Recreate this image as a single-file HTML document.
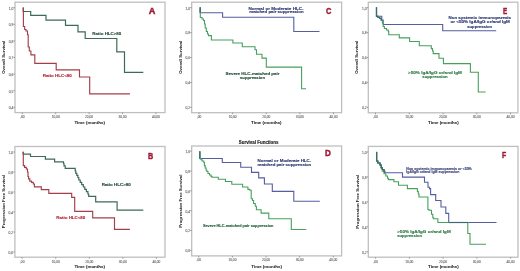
<!DOCTYPE html>
<html><head><meta charset="utf-8"><style>
html,body{margin:0;padding:0;background:#fff;}
body{width:520px;height:271px;overflow:hidden;}
svg{display:block;font-family:"Liberation Sans", sans-serif;will-change:transform;}
</style></head><body>
<svg width="520" height="271" viewBox="0 0 520 271">
<rect x="0" y="0" width="520" height="271" fill="#ffffff"/>
<rect x="15" y="2.2" width="150" height="110.4" fill="none" stroke="#bfbfbf" stroke-width="1.3"/>
<line x1="13.5" y1="7.7" x2="15" y2="7.7" stroke="#8c8c8c" stroke-width="0.9"/>
<text x="13.3" y="9.5" font-size="3.3" fill="#606060" font-weight="normal" text-anchor="end" stroke="#606060" stroke-width="0.08">1,0</text>
<line x1="13.5" y1="24.3" x2="15" y2="24.3" stroke="#8c8c8c" stroke-width="0.9"/>
<text x="13.3" y="26.1" font-size="3.3" fill="#606060" font-weight="normal" text-anchor="end" stroke="#606060" stroke-width="0.08">0,9</text>
<line x1="13.5" y1="40.9" x2="15" y2="40.9" stroke="#8c8c8c" stroke-width="0.9"/>
<text x="13.3" y="42.7" font-size="3.3" fill="#606060" font-weight="normal" text-anchor="end" stroke="#606060" stroke-width="0.08">0,8</text>
<line x1="13.5" y1="57.5" x2="15" y2="57.5" stroke="#8c8c8c" stroke-width="0.9"/>
<text x="13.3" y="59.3" font-size="3.3" fill="#606060" font-weight="normal" text-anchor="end" stroke="#606060" stroke-width="0.08">0,7</text>
<line x1="13.5" y1="74.1" x2="15" y2="74.1" stroke="#8c8c8c" stroke-width="0.9"/>
<text x="13.3" y="75.9" font-size="3.3" fill="#606060" font-weight="normal" text-anchor="end" stroke="#606060" stroke-width="0.08">0,6</text>
<line x1="13.5" y1="90.7" x2="15" y2="90.7" stroke="#8c8c8c" stroke-width="0.9"/>
<text x="13.3" y="92.5" font-size="3.3" fill="#606060" font-weight="normal" text-anchor="end" stroke="#606060" stroke-width="0.08">0,5</text>
<line x1="13.5" y1="107.3" x2="15" y2="107.3" stroke="#8c8c8c" stroke-width="0.9"/>
<text x="13.3" y="109.1" font-size="3.3" fill="#606060" font-weight="normal" text-anchor="end" stroke="#606060" stroke-width="0.08">0,4</text>
<line x1="22.3" y1="112.6" x2="22.3" y2="114.1" stroke="#8c8c8c" stroke-width="0.9"/>
<text x="22.3" y="118.0" font-size="3.2" fill="#606060" font-weight="normal" text-anchor="middle" stroke="#606060" stroke-width="0.08">,00</text>
<line x1="55.7" y1="112.6" x2="55.7" y2="114.1" stroke="#8c8c8c" stroke-width="0.9"/>
<text x="55.7" y="118.0" font-size="3.2" fill="#606060" font-weight="normal" text-anchor="middle" stroke="#606060" stroke-width="0.08">10,00</text>
<line x1="89.1" y1="112.6" x2="89.1" y2="114.1" stroke="#8c8c8c" stroke-width="0.9"/>
<text x="89.1" y="118.0" font-size="3.2" fill="#606060" font-weight="normal" text-anchor="middle" stroke="#606060" stroke-width="0.08">20,00</text>
<line x1="122.5" y1="112.6" x2="122.5" y2="114.1" stroke="#8c8c8c" stroke-width="0.9"/>
<text x="122.5" y="118.0" font-size="3.2" fill="#606060" font-weight="normal" text-anchor="middle" stroke="#606060" stroke-width="0.08">30,00</text>
<line x1="155.9" y1="112.6" x2="155.9" y2="114.1" stroke="#8c8c8c" stroke-width="0.9"/>
<text x="155.9" y="118.0" font-size="3.2" fill="#606060" font-weight="normal" text-anchor="middle" stroke="#606060" stroke-width="0.08">40,00</text>
<text x="89.7" y="124.2" font-size="4.1" fill="#222" font-weight="bold" text-anchor="middle" textLength="30.6" lengthAdjust="spacingAndGlyphs" stroke="#222" stroke-width="0.05">Time (months)</text>
<text x="0" y="0" font-size="4.4" fill="#222" font-weight="bold" text-anchor="middle" textLength="33" lengthAdjust="spacingAndGlyphs" transform="translate(4.7,57.3) rotate(-90)">Overall Survival</text>
<path d="M23.2,7.5 V11.5 H30.7 V15.3 H46 V20.2 H65.5 V25.4 H78 V31.9 H85.2 V38.5 H116.8 V51.8 H124.5 V72.3 H143.3" fill="none" stroke="#3d6b57" stroke-width="1.2" stroke-linejoin="miter"/>
<path d="M23.4,7.5 V26.5 H24.7 V29.5 H26 V31 H27.5 V34.7 H28.2 V47 H29.3 V51 H30.9 V54.9 H34.8 V63.4 H56.2 V69.9 H79.5 V77 H89.7 V93.9 H129.9" fill="none" stroke="#a53e4a" stroke-width="1.15" stroke-linejoin="miter"/>
<text x="106.8" y="35" font-size="4.4" fill="#214a36" font-weight="bold" text-anchor="middle" textLength="29" lengthAdjust="spacingAndGlyphs" stroke="#214a36" stroke-width="0.13">Ratio HLC&gt;80</text>
<text x="57.2" y="77.3" font-size="4.4" fill="#b02a38" font-weight="bold" text-anchor="middle" textLength="29" lengthAdjust="spacingAndGlyphs" stroke="#b02a38" stroke-width="0.13">Ratio HLC&lt;80</text>
<text x="152" y="14.1" font-size="9" fill="#a01a38" stroke="#a01a38" stroke-width="0.45" font-weight="bold" text-anchor="middle" textLength="6.6" lengthAdjust="spacingAndGlyphs">A</text>
<rect x="191.7" y="2.2" width="149.9" height="110.5" fill="none" stroke="#bfbfbf" stroke-width="1.3"/>
<line x1="190.2" y1="7.7" x2="191.7" y2="7.7" stroke="#8c8c8c" stroke-width="0.9"/>
<text x="190.0" y="9.5" font-size="3.3" fill="#606060" font-weight="normal" text-anchor="end" stroke="#606060" stroke-width="0.08">1,0</text>
<line x1="190.2" y1="32.63" x2="191.7" y2="32.63" stroke="#8c8c8c" stroke-width="0.9"/>
<text x="190.0" y="34.43" font-size="3.3" fill="#606060" font-weight="normal" text-anchor="end" stroke="#606060" stroke-width="0.08">0,8</text>
<line x1="190.2" y1="57.56" x2="191.7" y2="57.56" stroke="#8c8c8c" stroke-width="0.9"/>
<text x="190.0" y="59.36" font-size="3.3" fill="#606060" font-weight="normal" text-anchor="end" stroke="#606060" stroke-width="0.08">0,6</text>
<line x1="190.2" y1="82.49" x2="191.7" y2="82.49" stroke="#8c8c8c" stroke-width="0.9"/>
<text x="190.0" y="84.29" font-size="3.3" fill="#606060" font-weight="normal" text-anchor="end" stroke="#606060" stroke-width="0.08">0,4</text>
<line x1="190.2" y1="107.42" x2="191.7" y2="107.42" stroke="#8c8c8c" stroke-width="0.9"/>
<text x="190.0" y="109.22" font-size="3.3" fill="#606060" font-weight="normal" text-anchor="end" stroke="#606060" stroke-width="0.08">0,2</text>
<line x1="199.0" y1="112.7" x2="199.0" y2="114.2" stroke="#8c8c8c" stroke-width="0.9"/>
<text x="199.0" y="118.1" font-size="3.2" fill="#606060" font-weight="normal" text-anchor="middle" stroke="#606060" stroke-width="0.08">,00</text>
<line x1="232.62" y1="112.7" x2="232.62" y2="114.2" stroke="#8c8c8c" stroke-width="0.9"/>
<text x="232.62" y="118.1" font-size="3.2" fill="#606060" font-weight="normal" text-anchor="middle" stroke="#606060" stroke-width="0.08">10,00</text>
<line x1="266.24" y1="112.7" x2="266.24" y2="114.2" stroke="#8c8c8c" stroke-width="0.9"/>
<text x="266.24" y="118.1" font-size="3.2" fill="#606060" font-weight="normal" text-anchor="middle" stroke="#606060" stroke-width="0.08">20,00</text>
<line x1="299.86" y1="112.7" x2="299.86" y2="114.2" stroke="#8c8c8c" stroke-width="0.9"/>
<text x="299.86" y="118.1" font-size="3.2" fill="#606060" font-weight="normal" text-anchor="middle" stroke="#606060" stroke-width="0.08">30,00</text>
<line x1="333.48" y1="112.7" x2="333.48" y2="114.2" stroke="#8c8c8c" stroke-width="0.9"/>
<text x="333.48" y="118.1" font-size="3.2" fill="#606060" font-weight="normal" text-anchor="middle" stroke="#606060" stroke-width="0.08">40,00</text>
<text x="266.3" y="124.2" font-size="4.1" fill="#222" font-weight="bold" text-anchor="middle" textLength="30.6" lengthAdjust="spacingAndGlyphs" stroke="#222" stroke-width="0.05">Time (months)</text>
<text x="0" y="0" font-size="4.4" fill="#222" font-weight="bold" text-anchor="middle" textLength="33" lengthAdjust="spacingAndGlyphs" transform="translate(181.6,57.3) rotate(-90)">Overall Survival</text>
<path d="M200.1,7.3 V12.7 H222.6 V17.3 H293.8 V31.5 H319.5" fill="none" stroke="#555e9e" stroke-width="1.1" stroke-linejoin="miter"/>
<path d="M200.3,7.5 V17.5 H202 V19 H203.5 V20.5 H204.5 V24 H205.2 V28 H206.3 V31.5 H207.5 V34 H208.5 V35.6 H211.4 V40 H232.9 V43 H242.3 V46.7 H255 V49.8 H256.5 V54.2 H262 V58.1 H266.3 V67.1 H301.6 V88.7 H306" fill="none" stroke="#47a05c" stroke-width="1.1" stroke-linejoin="miter"/>
<text x="276" y="9.8" font-size="4.4" fill="#2c356e" font-weight="bold" text-anchor="middle" textLength="55" lengthAdjust="spacingAndGlyphs" stroke="#2c356e" stroke-width="0.13">Normal or Moderate HLC-</text>
<text x="276.4" y="13.3" font-size="4.4" fill="#2c356e" font-weight="bold" text-anchor="middle" textLength="54.3" lengthAdjust="spacingAndGlyphs" stroke="#2c356e" stroke-width="0.13">matched pair suppression</text>
<text x="252.5" y="74.6" font-size="4.4" fill="#214a36" font-weight="bold" text-anchor="middle" textLength="54" lengthAdjust="spacingAndGlyphs" stroke="#214a36" stroke-width="0.13">Severe HLC-matched pair</text>
<text x="252.5" y="79" font-size="4.4" fill="#214a36" font-weight="bold" text-anchor="middle" textLength="25" lengthAdjust="spacingAndGlyphs" stroke="#214a36" stroke-width="0.13">suppression</text>
<text x="328.8" y="14.0" font-size="9" fill="#a01a38" stroke="#a01a38" stroke-width="0.45" font-weight="bold" text-anchor="middle" textLength="5.4" lengthAdjust="spacingAndGlyphs">C</text>
<path d="M200.2,7.3 V12.6" fill="none" stroke="#3d6a6a" stroke-width="1.2" stroke-linejoin="miter"/>
<rect x="368.3" y="2.2" width="149.6" height="110.6" fill="none" stroke="#bfbfbf" stroke-width="1.3"/>
<line x1="366.8" y1="7.7" x2="368.3" y2="7.7" stroke="#8c8c8c" stroke-width="0.9"/>
<text x="366.6" y="9.5" font-size="3.3" fill="#606060" font-weight="normal" text-anchor="end" stroke="#606060" stroke-width="0.08">1,0</text>
<line x1="366.8" y1="32.63" x2="368.3" y2="32.63" stroke="#8c8c8c" stroke-width="0.9"/>
<text x="366.6" y="34.43" font-size="3.3" fill="#606060" font-weight="normal" text-anchor="end" stroke="#606060" stroke-width="0.08">0,8</text>
<line x1="366.8" y1="57.56" x2="368.3" y2="57.56" stroke="#8c8c8c" stroke-width="0.9"/>
<text x="366.6" y="59.36" font-size="3.3" fill="#606060" font-weight="normal" text-anchor="end" stroke="#606060" stroke-width="0.08">0,6</text>
<line x1="366.8" y1="82.49" x2="368.3" y2="82.49" stroke="#8c8c8c" stroke-width="0.9"/>
<text x="366.6" y="84.29" font-size="3.3" fill="#606060" font-weight="normal" text-anchor="end" stroke="#606060" stroke-width="0.08">0,4</text>
<line x1="366.8" y1="107.42" x2="368.3" y2="107.42" stroke="#8c8c8c" stroke-width="0.9"/>
<text x="366.6" y="109.22" font-size="3.3" fill="#606060" font-weight="normal" text-anchor="end" stroke="#606060" stroke-width="0.08">0,2</text>
<line x1="375.5" y1="112.8" x2="375.5" y2="114.3" stroke="#8c8c8c" stroke-width="0.9"/>
<text x="375.5" y="118.2" font-size="3.2" fill="#606060" font-weight="normal" text-anchor="middle" stroke="#606060" stroke-width="0.08">,00</text>
<line x1="409.25" y1="112.8" x2="409.25" y2="114.3" stroke="#8c8c8c" stroke-width="0.9"/>
<text x="409.25" y="118.2" font-size="3.2" fill="#606060" font-weight="normal" text-anchor="middle" stroke="#606060" stroke-width="0.08">10,00</text>
<line x1="443.0" y1="112.8" x2="443.0" y2="114.3" stroke="#8c8c8c" stroke-width="0.9"/>
<text x="443.0" y="118.2" font-size="3.2" fill="#606060" font-weight="normal" text-anchor="middle" stroke="#606060" stroke-width="0.08">20,00</text>
<line x1="476.75" y1="112.8" x2="476.75" y2="114.3" stroke="#8c8c8c" stroke-width="0.9"/>
<text x="476.75" y="118.2" font-size="3.2" fill="#606060" font-weight="normal" text-anchor="middle" stroke="#606060" stroke-width="0.08">30,00</text>
<line x1="510.5" y1="112.8" x2="510.5" y2="114.3" stroke="#8c8c8c" stroke-width="0.9"/>
<text x="510.5" y="118.2" font-size="3.2" fill="#606060" font-weight="normal" text-anchor="middle" stroke="#606060" stroke-width="0.08">40,00</text>
<text x="443.4" y="124.2" font-size="4.1" fill="#222" font-weight="bold" text-anchor="middle" textLength="30.6" lengthAdjust="spacingAndGlyphs" stroke="#222" stroke-width="0.05">Time (months)</text>
<text x="0" y="0" font-size="4.4" fill="#222" font-weight="bold" text-anchor="middle" textLength="33" lengthAdjust="spacingAndGlyphs" transform="translate(358.2,57.3) rotate(-90)">Overall Survival</text>
<path d="M376.4,7.2 V16.2 H381.8 V20 H383.2 V24.5 H442.7 V30.8 H496.2" fill="none" stroke="#555e9e" stroke-width="1.1" stroke-linejoin="miter"/>
<path d="M376.6,7.5 V16.4 H378 V17.5 H379.8 V18.5 H381.2 V20.5 H382.4 V23 H383.2 V26.5 H384.4 V28.5 H386.5 V30 H388.3 V31.5 H388.7 V34.8 H399.3 V37.9 H409.6 V41.5 H419.3 V45.7 H431.3 V48.6 H432.5 V51 H433.2 V53.6 H439 V58.2 H443.4 V63.6 H470.4 V72.2 H478.3 V92 H485.7" fill="none" stroke="#47a05c" stroke-width="1.1" stroke-linejoin="miter"/>
<text x="479.8" y="19.45" font-size="4.4" fill="#2c356e" font-weight="bold" text-anchor="middle" textLength="62.5" lengthAdjust="spacingAndGlyphs" stroke="#2c356e" stroke-width="0.13">Non systemic immunoparesis</text>
<text x="480.2" y="23.45" font-size="4.4" fill="#2c356e" font-weight="bold" text-anchor="middle" textLength="59.5" lengthAdjust="spacingAndGlyphs" stroke="#2c356e" stroke-width="0.13">or &lt;50% IgA/IgG or/and IgM</text>
<text x="479.7" y="27.55" font-size="4.4" fill="#2c356e" font-weight="bold" text-anchor="middle" textLength="25" lengthAdjust="spacingAndGlyphs" stroke="#2c356e" stroke-width="0.13">suppression</text>
<text x="435.0" y="73.9" font-size="4.4" fill="#2b7843" font-weight="bold" text-anchor="middle" textLength="53.9" lengthAdjust="spacingAndGlyphs" stroke="#2b7843" stroke-width="0.13">&gt;50% IgA/IgG or/and IgM</text>
<text x="435.0" y="78.0" font-size="4.3" fill="#2b7843" font-weight="bold" text-anchor="middle" textLength="25.5" lengthAdjust="spacingAndGlyphs" stroke="#2b7843" stroke-width="0.13">suppression</text>
<text x="505.1" y="14.0" font-size="9" fill="#a01a38" stroke="#a01a38" stroke-width="0.45" font-weight="bold" text-anchor="middle" textLength="4.2" lengthAdjust="spacingAndGlyphs">E</text>
<path d="M376.5,7.2 V16.4 H378 V17.5 H379.8 V18.5 H381.2 V20.5" fill="none" stroke="#3d6a6a" stroke-width="1.2" stroke-linejoin="miter"/>
<text x="258.6" y="143.9" font-size="4.45" fill="#1a1a1a" font-weight="bold" text-anchor="middle" textLength="39.7" lengthAdjust="spacingAndGlyphs" stroke="#1a1a1a" stroke-width="0.13">Survival Functions</text>
<rect x="14.9" y="146.5" width="150.1" height="110.7" fill="none" stroke="#bfbfbf" stroke-width="1.3"/>
<line x1="13.4" y1="152.0" x2="14.9" y2="152.0" stroke="#8c8c8c" stroke-width="0.9"/>
<text x="13.2" y="153.8" font-size="3.3" fill="#606060" font-weight="normal" text-anchor="end" stroke="#606060" stroke-width="0.08">1,0</text>
<line x1="13.4" y1="172.0" x2="14.9" y2="172.0" stroke="#8c8c8c" stroke-width="0.9"/>
<text x="13.2" y="173.8" font-size="3.3" fill="#606060" font-weight="normal" text-anchor="end" stroke="#606060" stroke-width="0.08">0,8</text>
<line x1="13.4" y1="192.0" x2="14.9" y2="192.0" stroke="#8c8c8c" stroke-width="0.9"/>
<text x="13.2" y="193.8" font-size="3.3" fill="#606060" font-weight="normal" text-anchor="end" stroke="#606060" stroke-width="0.08">0,6</text>
<line x1="13.4" y1="212.0" x2="14.9" y2="212.0" stroke="#8c8c8c" stroke-width="0.9"/>
<text x="13.2" y="213.8" font-size="3.3" fill="#606060" font-weight="normal" text-anchor="end" stroke="#606060" stroke-width="0.08">0,4</text>
<line x1="13.4" y1="232.0" x2="14.9" y2="232.0" stroke="#8c8c8c" stroke-width="0.9"/>
<text x="13.2" y="233.8" font-size="3.3" fill="#606060" font-weight="normal" text-anchor="end" stroke="#606060" stroke-width="0.08">0,2</text>
<line x1="13.4" y1="252.0" x2="14.9" y2="252.0" stroke="#8c8c8c" stroke-width="0.9"/>
<text x="13.2" y="253.8" font-size="3.3" fill="#606060" font-weight="normal" text-anchor="end" stroke="#606060" stroke-width="0.08">0,0</text>
<line x1="22.2" y1="257.2" x2="22.2" y2="258.7" stroke="#8c8c8c" stroke-width="0.9"/>
<text x="22.2" y="262.6" font-size="3.2" fill="#606060" font-weight="normal" text-anchor="middle" stroke="#606060" stroke-width="0.08">,00</text>
<line x1="55.75" y1="257.2" x2="55.75" y2="258.7" stroke="#8c8c8c" stroke-width="0.9"/>
<text x="55.75" y="262.6" font-size="3.2" fill="#606060" font-weight="normal" text-anchor="middle" stroke="#606060" stroke-width="0.08">10,00</text>
<line x1="89.3" y1="257.2" x2="89.3" y2="258.7" stroke="#8c8c8c" stroke-width="0.9"/>
<text x="89.3" y="262.6" font-size="3.2" fill="#606060" font-weight="normal" text-anchor="middle" stroke="#606060" stroke-width="0.08">20,00</text>
<line x1="122.85" y1="257.2" x2="122.85" y2="258.7" stroke="#8c8c8c" stroke-width="0.9"/>
<text x="122.85" y="262.6" font-size="3.2" fill="#606060" font-weight="normal" text-anchor="middle" stroke="#606060" stroke-width="0.08">30,00</text>
<line x1="156.4" y1="257.2" x2="156.4" y2="258.7" stroke="#8c8c8c" stroke-width="0.9"/>
<text x="156.4" y="262.6" font-size="3.2" fill="#606060" font-weight="normal" text-anchor="middle" stroke="#606060" stroke-width="0.08">40,00</text>
<text x="89.7" y="268.3" font-size="4.1" fill="#222" font-weight="bold" text-anchor="middle" textLength="30.6" lengthAdjust="spacingAndGlyphs" stroke="#222" stroke-width="0.05">Time (months)</text>
<text x="0" y="0" font-size="4.3" fill="#222" font-weight="bold" text-anchor="middle" textLength="53.3" lengthAdjust="spacingAndGlyphs" transform="translate(5.3,201.6) rotate(-90)">Progression Free Survival</text>
<path d="M23.1,151.8 V154.1 H30.5 V156.5 H45.4 V159.2 H54.6 V161.9 H63.5 V163.5 H64 V165.8 H65.2 V168.3 H75.2 V171 H75.8 V173.3 H76.8 V175.3 H77.9 V177.5 H78.8 V180 H80.2 V182.3 H81.7 V184.7 H83.3 V187 H84.8 V189.3 H86.4 V191.6 H87.9 V194 H88.7 V196.3 H95.7 V201.8 H117.1 V210.2 H143.3" fill="none" stroke="#3d6b57" stroke-width="1.2" stroke-linejoin="miter"/>
<path d="M23.3,151.8 V165.6 H24.6 V167.3 H26.3 V169 H27.5 V172 H28 V176.5 H28.6 V178.8 H29.8 V181.1 H31.5 V182.3 H33.3 V184 H34.4 V186.9 H41.3 V189.6 H48.8 V193.3 H71.7 V197.4 H74.7 V211.3 H92.7 V217.8 H114.5 V229.4 H129.9" fill="none" stroke="#a53e4a" stroke-width="1.15" stroke-linejoin="miter"/>
<text x="116.2" y="185.6" font-size="4.4" fill="#214a36" font-weight="bold" text-anchor="middle" textLength="29" lengthAdjust="spacingAndGlyphs" stroke="#214a36" stroke-width="0.13">Ratio HLC&gt;80</text>
<text x="70.8" y="219.2" font-size="4.4" fill="#b02a38" font-weight="bold" text-anchor="middle" textLength="29" lengthAdjust="spacingAndGlyphs" stroke="#b02a38" stroke-width="0.13">Ratio HLC&lt;80</text>
<text x="150.7" y="158.5" font-size="9" fill="#a01a38" stroke="#a01a38" stroke-width="0.45" font-weight="bold" text-anchor="middle" textLength="5.2" lengthAdjust="spacingAndGlyphs">B</text>
<rect x="191.7" y="146" width="149.9" height="109.9" fill="none" stroke="#bfbfbf" stroke-width="1.3"/>
<line x1="190.2" y1="151.2" x2="191.7" y2="151.2" stroke="#8c8c8c" stroke-width="0.9"/>
<text x="190.0" y="153.0" font-size="3.3" fill="#606060" font-weight="normal" text-anchor="end" stroke="#606060" stroke-width="0.08">1,0</text>
<line x1="190.2" y1="171.04" x2="191.7" y2="171.04" stroke="#8c8c8c" stroke-width="0.9"/>
<text x="190.0" y="172.84" font-size="3.3" fill="#606060" font-weight="normal" text-anchor="end" stroke="#606060" stroke-width="0.08">0,8</text>
<line x1="190.2" y1="190.88" x2="191.7" y2="190.88" stroke="#8c8c8c" stroke-width="0.9"/>
<text x="190.0" y="192.68" font-size="3.3" fill="#606060" font-weight="normal" text-anchor="end" stroke="#606060" stroke-width="0.08">0,6</text>
<line x1="190.2" y1="210.72" x2="191.7" y2="210.72" stroke="#8c8c8c" stroke-width="0.9"/>
<text x="190.0" y="212.52" font-size="3.3" fill="#606060" font-weight="normal" text-anchor="end" stroke="#606060" stroke-width="0.08">0,4</text>
<line x1="190.2" y1="230.56" x2="191.7" y2="230.56" stroke="#8c8c8c" stroke-width="0.9"/>
<text x="190.0" y="232.36" font-size="3.3" fill="#606060" font-weight="normal" text-anchor="end" stroke="#606060" stroke-width="0.08">0,2</text>
<line x1="190.2" y1="250.4" x2="191.7" y2="250.4" stroke="#8c8c8c" stroke-width="0.9"/>
<text x="190.0" y="252.2" font-size="3.3" fill="#606060" font-weight="normal" text-anchor="end" stroke="#606060" stroke-width="0.08">0,0</text>
<line x1="198.8" y1="255.9" x2="198.8" y2="257.4" stroke="#8c8c8c" stroke-width="0.9"/>
<text x="198.8" y="261.3" font-size="3.2" fill="#606060" font-weight="normal" text-anchor="middle" stroke="#606060" stroke-width="0.08">,00</text>
<line x1="232.42" y1="255.9" x2="232.42" y2="257.4" stroke="#8c8c8c" stroke-width="0.9"/>
<text x="232.42" y="261.3" font-size="3.2" fill="#606060" font-weight="normal" text-anchor="middle" stroke="#606060" stroke-width="0.08">10,00</text>
<line x1="266.04" y1="255.9" x2="266.04" y2="257.4" stroke="#8c8c8c" stroke-width="0.9"/>
<text x="266.04" y="261.3" font-size="3.2" fill="#606060" font-weight="normal" text-anchor="middle" stroke="#606060" stroke-width="0.08">20,00</text>
<line x1="299.66" y1="255.9" x2="299.66" y2="257.4" stroke="#8c8c8c" stroke-width="0.9"/>
<text x="299.66" y="261.3" font-size="3.2" fill="#606060" font-weight="normal" text-anchor="middle" stroke="#606060" stroke-width="0.08">30,00</text>
<line x1="333.28" y1="255.9" x2="333.28" y2="257.4" stroke="#8c8c8c" stroke-width="0.9"/>
<text x="333.28" y="261.3" font-size="3.2" fill="#606060" font-weight="normal" text-anchor="middle" stroke="#606060" stroke-width="0.08">40,00</text>
<text x="266.6" y="267.6" font-size="4.1" fill="#222" font-weight="bold" text-anchor="middle" textLength="30.6" lengthAdjust="spacingAndGlyphs" stroke="#222" stroke-width="0.05">Time (months)</text>
<text x="0" y="0" font-size="4.3" fill="#222" font-weight="bold" text-anchor="middle" textLength="53.3" lengthAdjust="spacingAndGlyphs" transform="translate(182.0,201.2) rotate(-90)">Progression Free Survival</text>
<path d="M199.8,151.2 V158.5 H222.3 V162.5 H240.7 V167.3 H251.5 V172.4 H258.7 V177.9 H264.4 V184 H272.3 V191.4 H293.8 V201.3 H319.8" fill="none" stroke="#555e9e" stroke-width="1.1" stroke-linejoin="miter"/>
<path d="M199.9,151.5 V158.7 H201 V159.8 H202.1 V161 H203.8 V162.5 H204.4 V165.6 H205.2 V168 H206.1 V170.2 H206.9 V171.5 H208 V173.5 H209.5 V175 H211 V176.4 H212 V177.3 H218.3 V179.3 H225.4 V181.5 H231.8 V184.3 H242.6 V187 H247.9 V189.4 H249.8 V190.2 H251.2 V198.8 H252.5 V200.5 H253.6 V203.5 H255.3 V206.3 H256.4 V209.7 H261.1 V213.1 H268.8 V218.8 H291.3 V229.5 H306.3" fill="none" stroke="#47a05c" stroke-width="1.1" stroke-linejoin="miter"/>
<text x="284.4" y="162" font-size="4.4" fill="#2c356e" font-weight="bold" text-anchor="middle" textLength="53.7" lengthAdjust="spacingAndGlyphs" stroke="#2c356e" stroke-width="0.13">Normal or Moderate HLC-</text>
<text x="284.4" y="166.4" font-size="4.4" fill="#2c356e" font-weight="bold" text-anchor="middle" textLength="53.7" lengthAdjust="spacingAndGlyphs" stroke="#2c356e" stroke-width="0.13">matched pair suppression</text>
<text x="238.2" y="226.6" font-size="3.85" fill="#27613f" font-weight="bold" text-anchor="middle" textLength="70.5" lengthAdjust="spacingAndGlyphs" stroke="#27613f" stroke-width="0.13">Severe HLC-matched pair suppression</text>
<text x="328" y="156.4" font-size="9" fill="#a01a38" stroke="#a01a38" stroke-width="0.45" font-weight="bold" text-anchor="middle" textLength="5.8" lengthAdjust="spacingAndGlyphs">D</text>
<path d="M199.85,151.3 V158.6" fill="none" stroke="#3d6a6a" stroke-width="1.2" stroke-linejoin="miter"/>
<rect x="368.3" y="146.4" width="149.7" height="110.8" fill="none" stroke="#bfbfbf" stroke-width="1.3"/>
<line x1="366.8" y1="152.0" x2="368.3" y2="152.0" stroke="#8c8c8c" stroke-width="0.9"/>
<text x="366.6" y="153.8" font-size="3.3" fill="#606060" font-weight="normal" text-anchor="end" stroke="#606060" stroke-width="0.08">1,0</text>
<line x1="366.8" y1="176.95" x2="368.3" y2="176.95" stroke="#8c8c8c" stroke-width="0.9"/>
<text x="366.6" y="178.75" font-size="3.3" fill="#606060" font-weight="normal" text-anchor="end" stroke="#606060" stroke-width="0.08">0,8</text>
<line x1="366.8" y1="201.9" x2="368.3" y2="201.9" stroke="#8c8c8c" stroke-width="0.9"/>
<text x="366.6" y="203.7" font-size="3.3" fill="#606060" font-weight="normal" text-anchor="end" stroke="#606060" stroke-width="0.08">0,6</text>
<line x1="366.8" y1="226.85" x2="368.3" y2="226.85" stroke="#8c8c8c" stroke-width="0.9"/>
<text x="366.6" y="228.65" font-size="3.3" fill="#606060" font-weight="normal" text-anchor="end" stroke="#606060" stroke-width="0.08">0,4</text>
<line x1="366.8" y1="251.8" x2="368.3" y2="251.8" stroke="#8c8c8c" stroke-width="0.9"/>
<text x="366.6" y="253.6" font-size="3.3" fill="#606060" font-weight="normal" text-anchor="end" stroke="#606060" stroke-width="0.08">0,2</text>
<line x1="375.6" y1="257.2" x2="375.6" y2="258.7" stroke="#8c8c8c" stroke-width="0.9"/>
<text x="375.6" y="262.6" font-size="3.2" fill="#606060" font-weight="normal" text-anchor="middle" stroke="#606060" stroke-width="0.08">,00</text>
<line x1="409.35" y1="257.2" x2="409.35" y2="258.7" stroke="#8c8c8c" stroke-width="0.9"/>
<text x="409.35" y="262.6" font-size="3.2" fill="#606060" font-weight="normal" text-anchor="middle" stroke="#606060" stroke-width="0.08">10,00</text>
<line x1="443.1" y1="257.2" x2="443.1" y2="258.7" stroke="#8c8c8c" stroke-width="0.9"/>
<text x="443.1" y="262.6" font-size="3.2" fill="#606060" font-weight="normal" text-anchor="middle" stroke="#606060" stroke-width="0.08">20,00</text>
<line x1="476.85" y1="257.2" x2="476.85" y2="258.7" stroke="#8c8c8c" stroke-width="0.9"/>
<text x="476.85" y="262.6" font-size="3.2" fill="#606060" font-weight="normal" text-anchor="middle" stroke="#606060" stroke-width="0.08">30,00</text>
<line x1="510.6" y1="257.2" x2="510.6" y2="258.7" stroke="#8c8c8c" stroke-width="0.9"/>
<text x="510.6" y="262.6" font-size="3.2" fill="#606060" font-weight="normal" text-anchor="middle" stroke="#606060" stroke-width="0.08">40,00</text>
<text x="443.4" y="268.3" font-size="4.1" fill="#222" font-weight="bold" text-anchor="middle" textLength="30.6" lengthAdjust="spacingAndGlyphs" stroke="#222" stroke-width="0.05">Time (months)</text>
<text x="0" y="0" font-size="4.3" fill="#222" font-weight="bold" text-anchor="middle" textLength="54" lengthAdjust="spacingAndGlyphs" transform="translate(358.7,201.8) rotate(-90)">Progression Free Survival</text>
<path d="M376.6,151.8 V161 H377.7 V163 H380 V165 H381.2 V167.5 H382.3 V169.5 H384 V171.3 H384.7 V172.8 H402.5 V177.1 H424.5 V182.3 H428 V187.2 H429.5 V188.6 H430.6 V194.6 H435.7 V200.5 H441 V207 H445.8 V213.4 H448.7 V222.5 H496.5" fill="none" stroke="#555e9e" stroke-width="1.1" stroke-linejoin="miter"/>
<path d="M376.7,152 V161 H378 V163 H380 V165 H381.2 V168.5 H382.3 V171.3 H384 V173.7 H385.8 V176 H387.5 V178.3 H388.4 V179.6 H393.9 V181.7 H398.5 V185.3 H407.4 V188.6 H417.4 V191.5 H418.3 V194 H419 V197 H427.9 V209.5 H429 V210.2 H431.5 V214.2 H432.8 V217.7 H433.6 V218.8 H437.9 V222.5 H467.8 V233.5 H470 V244.3 H486" fill="none" stroke="#47a05c" stroke-width="1.1" stroke-linejoin="miter"/>
<text x="406.3" y="169.7" font-size="3.55" fill="#3d4478" font-weight="bold" text-anchor="start" textLength="65.5" lengthAdjust="spacingAndGlyphs" stroke="#3d4478" stroke-width="0.13">Non systemic immunoparesis or &lt;50%</text>
<text x="406.3" y="173.2" font-size="3.55" fill="#3d4478" font-weight="bold" text-anchor="start" textLength="53" lengthAdjust="spacingAndGlyphs" stroke="#3d4478" stroke-width="0.13">IgA/IgG or/and IgM suppression</text>
<text x="397.2" y="232.6" font-size="4.4" fill="#2b7843" font-weight="bold" text-anchor="start" textLength="53.5" lengthAdjust="spacingAndGlyphs" stroke="#2b7843" stroke-width="0.13">&gt;50% IgA/IgG or/and IgM</text>
<text x="397.2" y="236.5" font-size="4.3" fill="#2b7843" font-weight="bold" text-anchor="start" textLength="24.8" lengthAdjust="spacingAndGlyphs" stroke="#2b7843" stroke-width="0.13">suppression</text>
<text x="504.1" y="157.6" font-size="9" fill="#a01a38" stroke="#a01a38" stroke-width="0.45" font-weight="bold" text-anchor="middle" textLength="4.2" lengthAdjust="spacingAndGlyphs">F</text>
<path d="M376.65,151.9 V161 H377.7 V163 H380 V165 H381.2 V167.5 H382.3 V169.5 H384 V171.3 H384.7 V172.6" fill="none" stroke="#3d6a6a" stroke-width="1.2" stroke-linejoin="miter"/>
<path d="M448.7,222.5 H467.8" fill="none" stroke="#3d6a6a" stroke-width="1.2" stroke-linejoin="miter"/>
</svg>
</body></html>
